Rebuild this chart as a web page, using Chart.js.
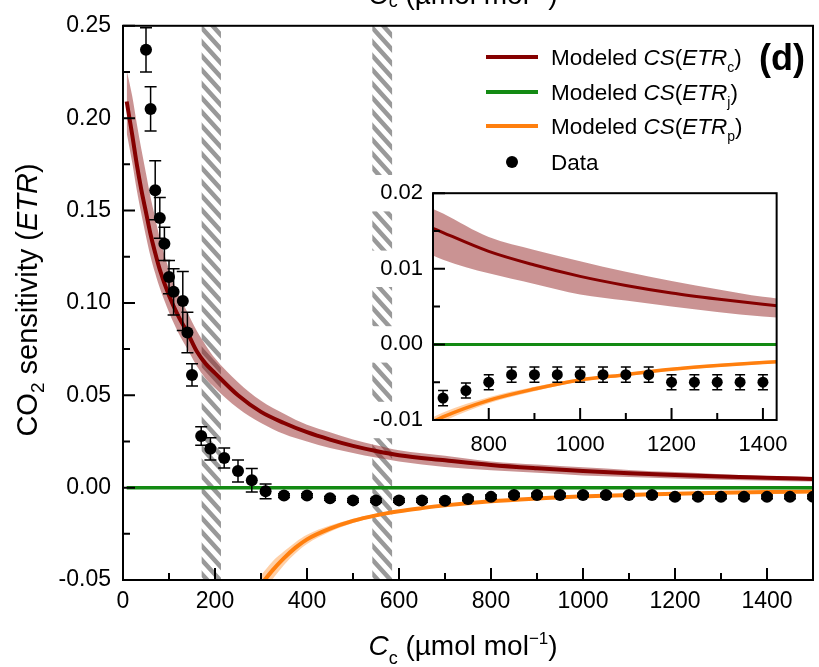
<!DOCTYPE html>
<html><head><meta charset="utf-8">
<script src="https://cdn.jsdelivr.net/npm/chart.js@4.4.1/dist/chart.umd.min.js"></script>
<style>
html,body{margin:0;padding:0;background:#fff;}
#wrap{position:relative;width:819px;height:667px;overflow:hidden;background:#fff;}
#main{position:absolute;left:0;top:0;}
#inset{position:absolute;left:370px;top:170px;}
</style></head><body>
<div id="wrap"><canvas id="main" width="819" height="667"></canvas><canvas id="inset" width="430" height="290"></canvas></div>
<script>
// ---------- data ----------
const dataX = [50,60,70,80,90,100,110,130,140,150,170,190,220,250,280,310,350,400,450,500,550,600,650,700,750,800,850,900,950,1000,1050,1100,1150,1200,1250,1300,1350,1400,1450,1500];
const dataY = [0.237,0.205,0.161,0.146,0.132,0.114,0.106,0.101,0.084,0.061,0.028,0.021,0.016,0.009,0.004,-0.002,-0.0043,-0.0043,-0.0058,-0.0069,-0.0069,-0.0069,-0.0069,-0.0071,-0.0061,-0.0050,-0.0040,-0.0040,-0.0040,-0.0040,-0.0040,-0.0040,-0.0040,-0.0050,-0.0050,-0.0050,-0.0050,-0.0050,-0.0050,-0.0050];
const dataErr = [0.012,0.012,0.016,0.011,0.009,0.009,0.0125,0.016,0.011,0.006,0.005,0.006,0.0054,0.006,0.0064,0.004,0.001,0.001,0.001,0.001,0.001,0.001,0.001,0.001,0.001,0.001,0.001,0.001,0.001,0.001,0.001,0.001,0.001,0.001,0.001,0.001,0.001,0.001,0.001,0.001];

const csCX = [8,20,30,40,50,60,70,80,100,120,140,160,180,200,250,300,350,400,450,500,550,600,700,800,900,1000,1100,1200,1300,1400,1500];
const csCY = [0.209,0.191,0.175,0.161,0.149,0.137,0.127,0.118,0.104,0.093,0.084,0.074,0.067,0.062,0.050,0.041,0.035,0.030,0.026,0.0226,0.0198,0.0175,0.0148,0.0123,0.0105,0.0090,0.0078,0.0068,0.0060,0.0053,0.0047];
const csCUpper = [0.226,0.212,0.197,0.183,0.170,0.157,0.146,0.135,0.118,0.105,0.095,0.085,0.077,0.070,0.057,0.047,0.040,0.034,0.030,0.026,0.023,0.0203,0.0173,0.0142,0.0125,0.0110,0.0096,0.0084,0.0073,0.0063,0.0057];
const csCLower = [0.192,0.176,0.161,0.148,0.136,0.125,0.116,0.108,0.095,0.084,0.075,0.066,0.059,0.054,0.043,0.035,0.029,0.025,0.0215,0.0188,0.0163,0.0142,0.0112,0.0094,0.0080,0.0066,0.0058,0.0050,0.0043,0.0037,0.0033];

const csPX = [300,325,350,375,400,450,500,550,600,650,700,800,900,1000,1100,1200,1300,1400,1500];
const csPY = [-0.0525,-0.0448,-0.0382,-0.0325,-0.0280,-0.0222,-0.0180,-0.0150,-0.0128,-0.0111,-0.0096,-0.0074,-0.0059,-0.0047,-0.0040,-0.0033,-0.0028,-0.0024,-0.0021];
const csPUpper = [-0.0475,-0.0400,-0.0345,-0.0295,-0.0255,-0.0205,-0.0168,-0.0141,-0.0121,-0.0105,-0.0090,-0.0070,-0.0056,-0.0045,-0.0038,-0.0031,-0.0026,-0.0022,-0.0019];
const csPLower = [-0.0575,-0.0496,-0.0419,-0.0355,-0.0305,-0.0239,-0.0192,-0.0159,-0.0135,-0.0117,-0.0102,-0.0078,-0.0062,-0.0049,-0.0042,-0.0035,-0.0030,-0.0026,-0.0023];

const csJX = [8,1500];
const csJY = [0,0];

const hatchBands = [[171,213],[542,585]];

const xMajor = [0,200,400,600,800,1000,1200,1400];
const xLabels = ["0","200","400","600","800","1000","1200","1400"];
const xMinor = [100,300,500,700,900,1100,1300];
const yMajor = [-0.05,0,0.05,0.10,0.15,0.20,0.25];
const yLabels = ["-0.05","0.00","0.05","0.10","0.15","0.20","0.25"];
const yMinor = [-0.025,0.025,0.075,0.125,0.175,0.225];

const inXMajor = [800,1000,1200,1400];
const inXLabels = ["800","1000","1200","1400"];
const inXMinor = [900,1100,1300];
const inYMajor = [-0.01,0,0.01,0.02];
const inYLabels = ["-0.01","0.00","0.01","0.02"];
const inYMinor = [-0.005,0.005,0.015];

const legendNames = [["Modeled ","CS","(","ETR","c",")"],["Modeled ","CS","(","ETR","j",")"],["Modeled ","CS","(","ETR","p",")"],["Data"]];

// ---------- helpers ----------
const FONT = "'Liberation Sans', Arial, Helvetica, sans-serif";
const RED = '#850000', GREEN = '#138a13', ORANGE = '#ff7f0e';
function pts(xs, ys){ return xs.map((x,i)=>({x:x, y:ys[i]})); }
function fnt(p, base){ return (p.it?'italic ':'') + (p.b?'bold ':'') + (p.sz||base) + 'px ' + FONT; }
function drawRich(ctx, parts, x, y, base, align){
  let w = 0;
  parts.forEach(p=>{ ctx.font = fnt(p, base); p._w = ctx.measureText(p.t).width; w += p._w; });
  let cx = align==='center' ? x - w/2 : x;
  ctx.textAlign = 'left'; ctx.textBaseline = 'alphabetic';
  parts.forEach(p=>{ ctx.font = fnt(p, base); ctx.fillText(p.t, cx, y + (p.dy||0)); cx += p._w; });
}

function makeDatasets(s){
  const common = {pointRadius:0, cubicInterpolationMode:'monotone', clip:0};
  return [
    {label:'Data', data:pts(dataX,dataY), showLine:false, pointRadius:s.r, pointHoverRadius:s.r, pointBackgroundColor:'#000', pointBorderColor:'#000', pointBorderWidth:0, order:0, clip:0},
    Object.assign({label:'CSj', data:pts(csJX,csJY), borderColor:GREEN, borderWidth:s.gw, order:1}, common),
    Object.assign({label:'CSp', data:pts(csPX,csPY), borderColor:ORANGE, borderWidth:s.ow, order:2}, common),
    Object.assign({label:'CSp hi', data:pts(csPX,csPUpper), borderColor:'transparent', borderWidth:0, fill:'+1', backgroundColor:'rgba(255,150,60,0.45)', order:3}, common),
    Object.assign({label:'CSp lo', data:pts(csPX,csPLower), borderColor:'transparent', borderWidth:0, fill:false, order:4}, common),
    Object.assign({label:'CSc', data:pts(csCX,csCY), borderColor:RED, borderWidth:s.rw, order:5}, common),
    Object.assign({label:'CSc hi', data:pts(csCX,csCUpper), borderColor:'transparent', borderWidth:0, fill:'+1', backgroundColor:'rgba(150,40,40,0.5)', order:6}, common),
    Object.assign({label:'CSc lo', data:pts(csCX,csCLower), borderColor:'transparent', borderWidth:0, fill:false, order:7}, common)
  ];
}

function errorBarPlugin(cap){
  return { id:'errbars', afterDatasetsDraw(chart){
    const ctx = chart.ctx, xs = chart.scales.x, ys = chart.scales.y, a = chart.chartArea;
    ctx.save(); ctx.beginPath(); ctx.rect(a.left, a.top, a.right-a.left, a.bottom-a.top); ctx.clip();
    ctx.strokeStyle = '#000'; ctx.lineWidth = 1.5;
    dataX.forEach((x,i)=>{
      const px = xs.getPixelForValue(x), p1 = ys.getPixelForValue(dataY[i]+dataErr[i]), p2 = ys.getPixelForValue(dataY[i]-dataErr[i]);
      ctx.beginPath(); ctx.moveTo(px,p1); ctx.lineTo(px,p2);
      ctx.moveTo(px-cap,p1); ctx.lineTo(px+cap,p1); ctx.moveTo(px-cap,p2); ctx.lineTo(px+cap,p2); ctx.stroke();
    });
    ctx.restore();
  }};
}

function framePlugin(xMaj, xMin, yMaj, yMin){
  return { id:'frame', afterDraw(chart){
    const ctx = chart.ctx, xs = chart.scales.x, ys = chart.scales.y, a = chart.chartArea;
    ctx.save(); ctx.strokeStyle = '#000'; ctx.lineWidth = 2;
    ctx.strokeRect(a.left, a.top, a.right-a.left, a.bottom-a.top);
    ctx.beginPath();
    xMaj.forEach(v=>{ const p = xs.getPixelForValue(v); ctx.moveTo(p,a.bottom); ctx.lineTo(p,a.bottom-12); });
    xMin.forEach(v=>{ const p = xs.getPixelForValue(v); ctx.moveTo(p,a.bottom); ctx.lineTo(p,a.bottom-7); });
    yMaj.forEach(v=>{ const p = ys.getPixelForValue(v); ctx.moveTo(a.left,p); ctx.lineTo(a.left+12,p); });
    yMin.forEach(v=>{ const p = ys.getPixelForValue(v); ctx.moveTo(a.left,p); ctx.lineTo(a.left+7,p); });
    ctx.stroke(); ctx.restore();
  }};
}

const hatchPlugin = { id:'hatch', beforeDatasetsDraw(chart){
  const ctx = chart.ctx, xs = chart.scales.x, a = chart.chartArea;
  ctx.save();
  hatchBands.forEach(b=>{
    const x1 = xs.getPixelForValue(b[0]), x2 = xs.getPixelForValue(b[1]), w = x2-x1;
    ctx.save(); ctx.beginPath(); ctx.rect(x1, a.top, w, a.bottom-a.top); ctx.clip();
    ctx.strokeStyle = '#999999'; ctx.lineWidth = 4.5; ctx.lineCap = 'butt';
    ctx.beginPath();
    for (let y0 = a.top - 40; y0 < a.bottom + 20; y0 += 14){
      ctx.moveTo(x1-4, y0-4*1.1); ctx.lineTo(x2+4, y0 + (w+4)*1.1);
    }
    ctx.stroke(); ctx.restore();
  });
  ctx.restore();
}};

const textPlugin = { id:'texts', afterDraw(chart){
  const ctx = chart.ctx; ctx.save(); ctx.fillStyle = '#000';
  // x title
  drawRich(ctx, [{t:'C',it:true},{t:'c',sz:18,dy:9},{t:' (\u00b5mol mol'},{t:'\u22121',sz:17,dy:-11},{t:')'}], 463, 655, 28, 'center');
  // cropped title of the panel above
  drawRich(ctx, [{t:'C',it:true},{t:'c',sz:18,dy:3},{t:' (\u00b5mol mol'},{t:'\u22121',sz:17,dy:-11},{t:')'}], 463, 4, 28, 'center');
  // y title
  ctx.save(); ctx.translate(37, 300); ctx.rotate(-Math.PI/2);
  drawRich(ctx, [{t:'CO'},{t:'2',sz:19,dy:7},{t:' sensitivity ('},{t:'ETR',it:true},{t:')'}], 0, 0, 29, 'center');
  ctx.restore();
  // legend
  const ly = [57, 92, 126];
  const lc = [RED, GREEN, ORANGE];
  ctx.lineWidth = 4; ctx.lineCap = 'butt';
  for (let i=0;i<3;i++){
    ctx.strokeStyle = lc[i]; ctx.beginPath(); ctx.moveTo(486, ly[i]); ctx.lineTo(538, ly[i]); ctx.stroke();
    const n = legendNames[i];
    drawRich(ctx, [{t:n[0]},{t:n[1],it:true},{t:n[2]},{t:n[3],it:true},{t:n[4],sz:14,dy:7},{t:n[5]}], 551, ly[i]+8, 22.5, 'left');
  }
  ctx.beginPath(); ctx.arc(512, 162, 6, 0, Math.PI*2); ctx.fill();
  drawRich(ctx, [{t:legendNames[3][0]}], 551, 170, 22.5, 'left');
  // panel label
  drawRich(ctx, [{t:'(d)', b:true}], 759, 70, 36, 'left');
  ctx.restore();
}};

const insetBg = { id:'insetbg', beforeDraw(chart){
  const a = chart.chartArea, ctx = chart.ctx;
  ctx.save(); ctx.fillStyle = '#fff'; ctx.fillRect(a.left, a.top, a.right-a.left, a.bottom-a.top); ctx.restore();
}};

function scaleOpts(cfg){
  return {
    x: { type:'linear', min:cfg.xmin, max:cfg.xmax,
      afterFit: s=>{ s.height = cfg.xh; },
      afterBuildTicks: s=>{ s.ticks = cfg.xMaj.map(v=>({value:v})); },
      grid:{display:false, drawTicks:false}, border:{display:false},
      ticks:{ padding:cfg.xpad, color:'#000', font:{family:FONT, size:cfg.fs}, autoSkip:false, maxRotation:0,
        callback: v => cfg.xLab[cfg.xMaj.indexOf(v)] } },
    y: { type:'linear', min:cfg.ymin, max:cfg.ymax,
      afterFit: s=>{ s.width = cfg.yw; },
      afterBuildTicks: s=>{ s.ticks = cfg.yMaj.map(v=>({value:v})); },
      grid:{display:false, drawTicks:false}, border:{display:false},
      ticks:{ padding:cfg.ypad, color:'#000', font:{family:FONT, size:cfg.fs}, autoSkip:false,
        showLabelBackdrop: !!cfg.backdrop, backdropColor:'#fff', backdropPadding:{top:5,bottom:5,left:12,right:3},
        callback: v => cfg.yLab[cfg.yMaj.indexOf(v)] } }
  };
}

new Chart(document.getElementById('main'), {
  type:'line',
  data:{ datasets: makeDatasets({r:6, gw:3.5, ow:4, rw:4}) },
  options:{
    responsive:false, animation:false, devicePixelRatio:1,
    layout:{ padding:{top:19, right:1, left:0, bottom:0} },
    plugins:{ legend:{display:false}, tooltip:{enabled:false} },
    scales: scaleOpts({xmin:0, xmax:1500, ymin:-0.05, ymax:0.25, xh:87, yw:123, xpad:8, ypad:12, fs:23,
      xMaj:xMajor, xLab:xLabels, yMaj:yMajor, yLab:yLabels})
  },
  plugins:[hatchPlugin, errorBarPlugin(6), framePlugin(xMajor, xMinor, yMajor, yMinor), textPlugin]
});

new Chart(document.getElementById('inset'), {
  type:'line',
  data:{ datasets: makeDatasets({r:5.5, gw:3, ow:3.5, rw:3}) },
  options:{
    responsive:false, animation:false, devicePixelRatio:1,
    layout:{ padding:{top:15, right:15, left:0, bottom:0} },
    plugins:{ legend:{display:false}, tooltip:{enabled:false} },
    scales: scaleOpts({xmin:678, xmax:1430, ymin:-0.01, ymax:0.02, xh:40, yw:63, xpad:12, ypad:10, fs:22, backdrop:true,
      xMaj:inXMajor, xLab:inXLabels, yMaj:inYMajor, yLab:inYLabels})
  },
  plugins:[insetBg, errorBarPlugin(5), framePlugin(inXMajor, inXMinor, inYMajor, inYMinor)]
});
</script>
</body></html>
